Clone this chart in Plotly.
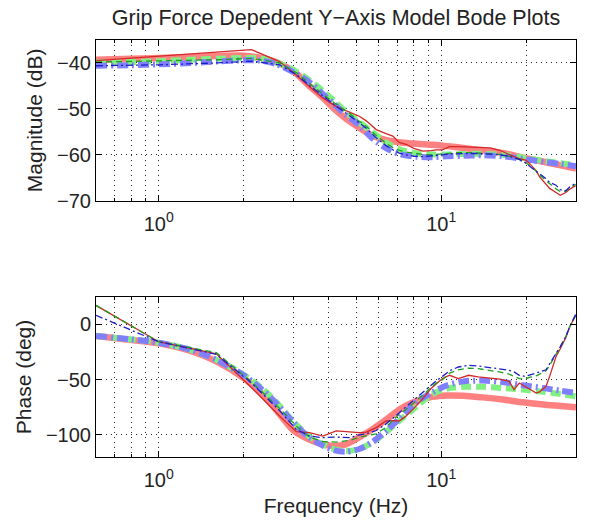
import plotly.graph_objects as go

# ---------------- data ----------------
meas_freq = [0.6, 1.0, 1.6, 2.13, 2.68, 3.07, 3.42, 3.81, 4.25, 4.74, 5.13, 5.43, 5.89, 6.38,
             6.74, 7.1, 7.5, 8.0, 8.62, 9.2, 9.6, 10.1, 10.7, 11.5, 12.5, 13.5, 14.9, 16.1,
             17.4, 18.1, 18.9, 19.8, 20.5, 21.7, 22.3, 23.5, 24.2, 25.5, 26.4, 27.6, 28.5, 29.9]

meas_mag_red = [-39.5, -38.5, -37.6, -37.1, -39.7, -42.6, -45.2, -47.6, -49.5, -50.8, -51.6, -52.6,
                -54.5, -55.4, -55.9, -57.3, -57.7, -58.6, -59.2, -59.1, -58.9, -58.9, -58.2, -58.2,
                -58.3, -58.4, -58.5, -59.0, -60.0, -60.4, -60.8, -61.1, -61.8, -63.5, -64.8, -66.4,
                -67.3, -68.2, -68.8, -68.2, -67.5, -66.7]
meas_mag_green = [-39.8, -39.6, -39.3, -39.0, -40.0, -42.1, -44.5, -46.8, -49.0, -51.0, -52.7, -53.8,
                  -55.8, -57.5, -58.4, -59.0, -59.4, -59.7, -59.9, -60.0, -59.9, -59.8, -59.6, -59.5,
                  -59.5, -59.6, -59.7, -59.9, -60.3, -60.6, -61.0, -61.6, -62.2, -63.6, -64.4, -65.6,
                  -66.3, -67.4, -68.0, -67.9, -67.2, -66.4]
meas_mag_blue = [-40.6, -40.4, -40.0, -39.6, -40.4, -42.5, -44.9, -47.2, -49.4, -51.5, -53.0, -54.2,
                 -56.3, -58.0, -58.9, -59.6, -60.0, -60.3, -60.4, -60.3, -60.1, -60.0, -59.8, -59.7,
                 -59.7, -59.7, -59.8, -60.0, -60.3, -60.6, -61.0, -61.7, -62.4, -63.4, -64.0, -65.2,
                 -66.0, -66.6, -67.6, -67.8, -67.0, -66.2]

meas_ph_red = [17.3, -15.6, -26.5, -57, -83, -97, -98, -101, -96.4, -97, -98, -97.5, -93.4, -87.4,
               -87, -87.4, -83, -76, -67, -58, -54, -49, -46, -49, -46, -47.5, -48.5, -49.5,
               -51.5, -59, -53, -56, -59, -62, -61, -56, -47, -29, -22, -12, -2, 8]
meas_ph_green = [17.3, -15.6, -25.5, -52, -76, -92, -102, -106, -106.5, -105, -102, -101, -99, -93,
                 -87, -81, -77, -71, -64, -57, -53, -50, -44, -41, -39.5, -40, -41.5, -43,
                 -45, -47, -49, -49.5, -48, -46.5, -45, -42, -37, -26, -20, -11, -2, 8]
meas_ph_blue = [8.3, -15.6, -27, -53, -78, -95, -101, -102.5, -102, -102.5, -100, -99, -96, -90,
                -85, -80, -75, -68, -61, -55, -51, -47, -42, -38.5, -37, -37.5, -39, -40,
                -41.5, -43, -46, -47, -46, -44, -43, -41, -36, -26, -20, -11, -2, 9]

model_freq = [0.6, 0.8, 1.0, 1.3, 1.6, 2.0, 2.3, 2.6, 3.0, 3.4, 3.8, 4.2, 4.6, 5.1, 5.7, 6.4,
              7.2, 8.2, 9.3, 10.5, 12, 14, 16.5, 19.5, 23, 26.5, 30]

model_mag_red = [-39.3, -39.1, -38.9, -38.7, -38.5, -38.4, -38.9, -39.8, -41.8, -44.9, -47.5, -50.1,
                 -52.1, -54.0, -55.8, -56.8, -57.3, -57.6, -57.8, -58.1, -58.5, -59.0, -59.6, -60.6,
                 -61.5, -62.3, -63.0]
model_mag_green = [-39.9, -39.8, -39.6, -39.3, -39.1, -38.9, -39.0, -39.8, -41.5, -43.7, -46.0, -48.4,
                   -50.6, -52.8, -55.0, -57.4, -58.9, -59.7, -59.9, -59.9, -59.8, -59.8, -60.0, -60.6,
                   -61.3, -61.8, -62.3]
model_mag_blue = [-40.6, -40.5, -40.3, -40.0, -39.7, -39.4, -39.5, -40.2, -42.0, -44.1, -46.7, -49.1,
                  -51.3, -53.4, -56.4, -58.6, -59.9, -60.4, -60.5, -60.3, -60.2, -60.1, -60.3, -60.9,
                  -61.5, -62.0, -62.5]

model_ph_red = [-10.5, -14, -17, -24, -33.5, -48.5, -62, -77, -96, -104, -108.5, -110, -108.5,
                -102.5, -95, -86, -76, -69, -65.5, -64.3, -64.5, -66, -68, -70.5, -72.5, -73.8, -75]
model_ph_green = [-10.5, -13.5, -16.5, -23, -32, -45.5, -57, -70, -88, -101, -108.5, -113, -114.5,
                  -113, -107, -97, -86, -74, -63, -58, -56.5, -56.5, -57.5, -59, -61, -63, -65]
model_ph_blue = [-10.5, -13.5, -16.5, -23, -32, -46, -58, -71, -89, -102, -109.5, -114, -115.2,
                 -113, -106.5, -96, -84, -70, -61.5, -55, -51.5, -50.8, -52, -55, -57.6, -60, -62]

x_major = [1, 10]
x_major_text = ["10<sup>0</sup>", "10<sup>1</sup>"]
x_minor = [0.6, 0.7, 0.8, 0.9, 2, 3, 4, 5, 6, 7, 8, 9, 20, 30]
mag_ticks = [-70, -60, -50, -40]
ph_ticks = [-100, -50, 0]

title_text = "Grip Force Depedent Y\u2212Axis Model Bode Plots"

# ---------------- styles ----------------
thick = [
    (dict(color="rgb(255,128,128)", width=6.5), "solid"),
    (dict(color="rgb(128,240,128)", width=6), "10px,5px"),
    (dict(color="rgb(128,128,255)", width=6), "11px,4px,2px,4px"),
]
thin = [
    dict(color="rgb(210,40,40)", width=1.3, dash="solid"),
    dict(color="rgb(30,160,30)", width=1.3, dash="6px,4px"),
    dict(color="rgb(30,30,200)", width=1.3, dash="7px,3px,2px,3px"),
]

fig = go.Figure()

model_mags = [model_mag_red, model_mag_green, model_mag_blue]
model_phs = [model_ph_red, model_ph_green, model_ph_blue]
meas_mags = [meas_mag_red, meas_mag_green, meas_mag_blue]
meas_phs = [meas_ph_red, meas_ph_green, meas_ph_blue]

for (ln, dash), mg, ph in zip(thick, model_mags, model_phs):
    fig.add_trace(go.Scatter(x=model_freq, y=mg, mode="lines", xaxis="x", yaxis="y",
                             line=dict(ln, dash=dash, shape="spline", smoothing=0.8),
                             showlegend=False, hoverinfo="skip"))
    fig.add_trace(go.Scatter(x=model_freq, y=ph, mode="lines", xaxis="x2", yaxis="y2",
                             line=dict(ln, dash=dash, shape="spline", smoothing=0.8),
                             showlegend=False, hoverinfo="skip"))

for ln, mg, ph in zip(thin, meas_mags, meas_phs):
    fig.add_trace(go.Scatter(x=meas_freq, y=mg, mode="lines", xaxis="x", yaxis="y",
                             line=ln, showlegend=False, hoverinfo="skip"))
    fig.add_trace(go.Scatter(x=meas_freq, y=ph, mode="lines", xaxis="x2", yaxis="y2",
                             line=ln, showlegend=False, hoverinfo="skip"))

font_family = "Liberation Sans, Arial, Helvetica, sans-serif"
grid_col = "rgb(40,40,40)"
grid_dash = "1px,4px"

def xaxis_cfg(anchor, show_title):
    cfg = dict(
        type="log", range=[-0.2218, 1.4771], anchor=anchor,
        tickmode="array", tickvals=x_major, ticktext=x_major_text,
        ticks="inside", ticklen=6, tickcolor="black",
        showline=True, linecolor="black", linewidth=1, mirror="ticks",
        showgrid=True, gridcolor=grid_col, griddash=grid_dash, gridwidth=1,
        minor=dict(tickmode="array", tickvals=x_minor, ticks="inside", ticklen=3,
                   tickcolor="black", showgrid=True, gridcolor=grid_col,
                   griddash=grid_dash, gridwidth=1),
        tickfont=dict(size=20, color="#222"), zeroline=False, automargin=False,
        ticklabelstandoff=5,
    )
    if show_title:
        cfg["title"] = dict(text="Frequency (Hz)", font=dict(size=21, color="#222"), standoff=8)
    return cfg

def yaxis_cfg(anchor, rng, ticks, title, domain):
    return dict(
        range=rng, domain=domain, anchor=anchor,
        tickmode="array", tickvals=ticks,
        ticks="inside", ticklen=6, tickcolor="black",
        showline=True, linecolor="black", linewidth=1, mirror="ticks",
        showgrid=True, gridcolor=grid_col, griddash=grid_dash, gridwidth=1,
        zeroline=False, tickfont=dict(size=20, color="#222"), automargin=False,
        title=dict(text=title, font=dict(size=21, color="#222"), standoff=8),
    )

fig.update_layout(
    width=590, height=523,
    margin=dict(l=96, r=14, t=40, b=66),
    paper_bgcolor="white", plot_bgcolor="white",
    font=dict(family=font_family, color="#222"),
    title=dict(text=title_text, x=(336 / 590), xanchor="center", y=1 - 17 / 523,
               yanchor="middle", font=dict(size=21.5, color="#222")),
    xaxis=dict(xaxis_cfg("y", False), domain=[0, 1]),
    yaxis=yaxis_cfg("x", [-70, -35], mag_ticks, "Magnitude (dB)", [0.6144, 1.0]),
    xaxis2=dict(xaxis_cfg("y2", True), domain=[0, 1]),
    yaxis2=yaxis_cfg("x2", [-120, 25], ph_ticks, "Phase (deg)", [0.0, 0.384]),
    showlegend=False,
)

fig.write_html("out.html", config={"displayModeBar": False},
               post_script="document.body.style.margin='0';document.body.style.overflow='hidden';")
